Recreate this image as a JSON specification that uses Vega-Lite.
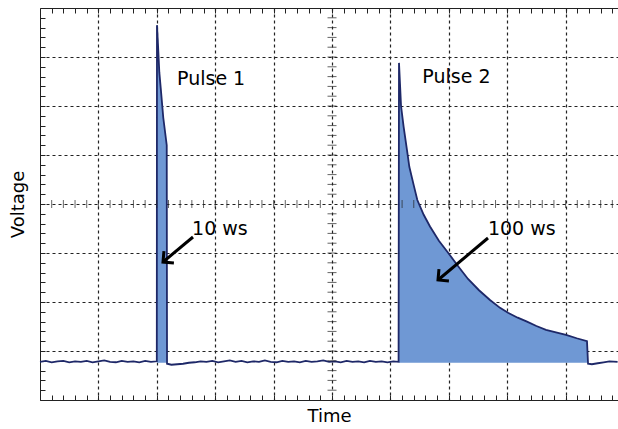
{
  "$schema": "https://vega.github.io/schema/vega-lite/v6.json",
  "width": 578,
  "height": 392,
  "autosize": {"type": "none"},
  "padding": {"left": 40, "top": 8, "right": 0, "bottom": 29},
  "background": "white",
  "config": {"view": {"stroke": null}, "font": "DejaVu Sans"},
  "datasets": {
    "trace": [
      {"t": 0.0, "v": 0.78, "p": 0}, {"t": 0.1, "v": 0.80, "p": 0}, {"t": 0.2, "v": 0.77, "p": 0}, {"t": 0.3, "v": 0.79, "p": 0},
      {"t": 0.4, "v": 0.80, "p": 0}, {"t": 0.5, "v": 0.77, "p": 0}, {"t": 0.6, "v": 0.79, "p": 0}, {"t": 0.7, "v": 0.78, "p": 0},
      {"t": 0.8, "v": 0.80, "p": 0}, {"t": 0.9, "v": 0.77, "p": 0}, {"t": 1.0, "v": 0.79, "p": 0}, {"t": 1.1, "v": 0.81, "p": 0},
      {"t": 1.2, "v": 0.78, "p": 0}, {"t": 1.3, "v": 0.77, "p": 0}, {"t": 1.4, "v": 0.80, "p": 0}, {"t": 1.5, "v": 0.78, "p": 0},
      {"t": 1.6, "v": 0.79, "p": 0}, {"t": 1.7, "v": 0.77, "p": 0}, {"t": 1.8, "v": 0.80, "p": 0}, {"t": 1.9, "v": 0.78, "p": 0},
      {"t": 2.0, "v": 0.79, "p": 0},
      {"t": 2.003, "v": 7.65, "p": 1}, {"t": 2.021, "v": 7.24, "p": 1}, {"t": 2.043, "v": 6.69, "p": 1},
      {"t": 2.067, "v": 6.37, "p": 1}, {"t": 2.111, "v": 5.76, "p": 1}, {"t": 2.17, "v": 5.2, "p": 1},
      {"t": 2.175, "v": 0.74, "p": 0}, {"t": 2.25, "v": 0.72, "p": 0}, {"t": 2.35, "v": 0.73, "p": 0}, {"t": 2.45, "v": 0.74, "p": 0},
      {"t": 2.55, "v": 0.76, "p": 0}, {"t": 2.65, "v": 0.77, "p": 0}, {"t": 2.75, "v": 0.79, "p": 0}, {"t": 2.85, "v": 0.78, "p": 0},
      {"t": 2.95, "v": 0.80, "p": 0}, {"t": 3.05, "v": 0.77, "p": 0}, {"t": 3.15, "v": 0.79, "p": 0}, {"t": 3.25, "v": 0.81, "p": 0},
      {"t": 3.35, "v": 0.78, "p": 0}, {"t": 3.45, "v": 0.80, "p": 0}, {"t": 3.55, "v": 0.77, "p": 0}, {"t": 3.65, "v": 0.79, "p": 0},
      {"t": 3.75, "v": 0.78, "p": 0}, {"t": 3.85, "v": 0.81, "p": 0}, {"t": 3.95, "v": 0.78, "p": 0}, {"t": 4.05, "v": 0.77, "p": 0},
      {"t": 4.15, "v": 0.80, "p": 0}, {"t": 4.25, "v": 0.78, "p": 0}, {"t": 4.35, "v": 0.79, "p": 0}, {"t": 4.45, "v": 0.77, "p": 0},
      {"t": 4.55, "v": 0.80, "p": 0}, {"t": 4.65, "v": 0.78, "p": 0}, {"t": 4.75, "v": 0.79, "p": 0}, {"t": 4.85, "v": 0.81, "p": 0},
      {"t": 4.95, "v": 0.78, "p": 0}, {"t": 5.05, "v": 0.79, "p": 0}, {"t": 5.15, "v": 0.77, "p": 0}, {"t": 5.25, "v": 0.80, "p": 0},
      {"t": 5.35, "v": 0.78, "p": 0}, {"t": 5.45, "v": 0.79, "p": 0}, {"t": 5.55, "v": 0.77, "p": 0}, {"t": 5.65, "v": 0.80, "p": 0},
      {"t": 5.75, "v": 0.78, "p": 0}, {"t": 5.85, "v": 0.79, "p": 0}, {"t": 5.95, "v": 0.77, "p": 0}, {"t": 6.05, "v": 0.79, "p": 0},
      {"t": 6.14, "v": 0.78, "p": 0},
      {"t": 6.147, "v": 6.88, "p": 2}, {"t": 6.164, "v": 6.46, "p": 2}, {"t": 6.182, "v": 6.0, "p": 2},
      {"t": 6.226, "v": 5.58, "p": 2}, {"t": 6.284, "v": 5.1, "p": 2}, {"t": 6.324, "v": 4.76, "p": 2},
      {"t": 6.4, "v": 4.38, "p": 2}, {"t": 6.461, "v": 4.08, "p": 2}, {"t": 6.57, "v": 3.78, "p": 2},
      {"t": 6.678, "v": 3.54, "p": 2}, {"t": 6.83, "v": 3.25, "p": 2}, {"t": 6.991, "v": 3.0, "p": 2},
      {"t": 7.16, "v": 2.73, "p": 2}, {"t": 7.329, "v": 2.47, "p": 2}, {"t": 7.517, "v": 2.24, "p": 2},
      {"t": 7.705, "v": 2.04, "p": 2}, {"t": 7.877, "v": 1.88, "p": 2}, {"t": 8.014, "v": 1.78, "p": 2},
      {"t": 8.18, "v": 1.68, "p": 2}, {"t": 8.339, "v": 1.6, "p": 2}, {"t": 8.5, "v": 1.51, "p": 2},
      {"t": 8.664, "v": 1.43, "p": 2}, {"t": 8.835, "v": 1.38, "p": 2}, {"t": 9.007, "v": 1.33, "p": 2},
      {"t": 9.19, "v": 1.26, "p": 2}, {"t": 9.366, "v": 1.2, "p": 2},
      {"t": 9.384, "v": 0.74, "p": 0}, {"t": 9.45, "v": 0.73, "p": 0}, {"t": 9.55, "v": 0.75, "p": 0}, {"t": 9.65, "v": 0.77, "p": 0},
      {"t": 9.75, "v": 0.79, "p": 0}, {"t": 9.89, "v": 0.78, "p": 0}
    ],
    "vticks": [
      {"v": 0.2}, {"v": 0.4}, {"v": 0.6}, {"v": 0.8}, {"v": 1.0}, {"v": 1.2}, {"v": 1.4}, {"v": 1.6}, {"v": 1.8}, {"v": 2.0},
      {"v": 2.2}, {"v": 2.4}, {"v": 2.6}, {"v": 2.8}, {"v": 3.0}, {"v": 3.2}, {"v": 3.4}, {"v": 3.6}, {"v": 3.8},
      {"v": 4.2}, {"v": 4.4}, {"v": 4.6}, {"v": 4.8}, {"v": 5.0}, {"v": 5.2}, {"v": 5.4}, {"v": 5.6}, {"v": 5.8}, {"v": 6.0},
      {"v": 6.2}, {"v": 6.4}, {"v": 6.6}, {"v": 6.8}, {"v": 7.0}, {"v": 7.2}, {"v": 7.4}, {"v": 7.6}, {"v": 7.8}
    ],
    "hticks": [
      {"t": 0.2}, {"t": 0.4}, {"t": 0.6}, {"t": 0.8}, {"t": 1.0}, {"t": 1.2}, {"t": 1.4}, {"t": 1.6}, {"t": 1.8}, {"t": 2.0},
      {"t": 2.2}, {"t": 2.4}, {"t": 2.6}, {"t": 2.8}, {"t": 3.0}, {"t": 3.2}, {"t": 3.4}, {"t": 3.6}, {"t": 3.8}, {"t": 4.0},
      {"t": 4.2}, {"t": 4.4}, {"t": 4.6}, {"t": 4.8}, {"t": 5.2}, {"t": 5.4}, {"t": 5.6}, {"t": 5.8}, {"t": 6.0},
      {"t": 6.2}, {"t": 6.4}, {"t": 6.6}, {"t": 6.8}, {"t": 7.0}, {"t": 7.2}, {"t": 7.4}, {"t": 7.6}, {"t": 7.8}, {"t": 8.0},
      {"t": 8.2}, {"t": 8.4}, {"t": 8.6}, {"t": 8.8}, {"t": 9.0}, {"t": 9.2}, {"t": 9.4}, {"t": 9.6}, {"t": 9.8}
    ],
    "labels": [
      {"t": 2.93, "v": 6.43, "label": "Pulse 1"},
      {"t": 7.13, "v": 6.47, "label": "Pulse 2"},
      {"t": 3.08, "v": 3.37, "label": "10 ws"},
      {"t": 8.25, "v": 3.37, "label": "100 ws"}
    ],
    "arrows": [
      {"t": 2.62, "v": 3.327, "t2": 2.106, "v2": 2.816, "ang": 230},
      {"t": 7.671, "v": 3.306, "t2": 6.815, "v2": 2.449, "ang": 230}
    ]
  },
  "layer": [
    {
      "data": {"name": "trace"},
      "transform": [{"filter": "datum.p > 0"}],
      "mark": {"type": "area", "color": "#6f98d4", "opacity": 1},
      "encoding": {
        "x": {"field": "t", "type": "quantitative", "scale": {"domain": [0, 9.897], "nice": false, "zero": false},
          "axis": {"orient": "bottom", "values": [0,0.2,0.4,0.6,0.8,1,1.2,1.4,1.6,1.8,2,2.2,2.4,2.6,2.8,3,3.2,3.4,3.6,3.8,4,4.2,4.4,4.6,4.8,5,5.2,5.4,5.6,5.8,6,6.2,6.4,6.6,6.8,7,7.2,7.4,7.6,7.8,8,8.2,8.4,8.6,8.8,9,9.2,9.4,9.6,9.8],
            "tickSize": -5, "tickColor": "#222", "domainColor": "#222", "labels": false, "grid": false,
            "title": "Time", "titleFontSize": 18, "titleFontWeight": "normal", "titleColor": "#000", "titlePadding": 7}},
        "y": {"field": "v", "type": "quantitative", "scale": {"domain": [0, 8], "nice": false, "zero": false},
          "axis": {"orient": "left", "values": [0,0.2,0.4,0.6,0.8,1,1.2,1.4,1.6,1.8,2,2.2,2.4,2.6,2.8,3,3.2,3.4,3.6,3.8,4,4.2,4.4,4.6,4.8,5,5.2,5.4,5.6,5.8,6,6.2,6.4,6.6,6.8,7,7.2,7.4,7.6,7.8],
            "tickSize": -5, "tickColor": "#222", "domainColor": "#222", "labels": false, "grid": false,
            "title": "Voltage", "titleFontSize": 18, "titleFontWeight": "normal", "titleColor": "#000", "titlePadding": 12}},
        "y2": {"datum": 0.76},
        "detail": {"field": "p"}
      }
    },
    {
      "data": {"name": "trace"},
      "mark": {"type": "line", "color": "#1e2868", "strokeWidth": 1.8},
      "encoding": {
        "x": {"field": "t", "type": "quantitative", "scale": {"domain": [0, 9.897], "nice": false, "zero": false},
          "axis": {"orient": "top", "values": [0,0.2,0.4,0.6,0.8,1,1.2,1.4,1.6,1.8,2,2.2,2.4,2.6,2.8,3,3.2,3.4,3.6,3.8,4,4.2,4.4,4.6,4.8,5,5.2,5.4,5.6,5.8,6,6.2,6.4,6.6,6.8,7,7.2,7.4,7.6,7.8,8,8.2,8.4,8.6,8.8,9,9.2,9.4,9.6,9.8],
            "tickSize": -5, "tickColor": "#222", "domainColor": "#222", "labels": false, "grid": false, "title": null}},
        "y": {"field": "v", "type": "quantitative", "scale": {"domain": [0, 8], "nice": false, "zero": false},
          "axis": {"orient": "left", "values": [1,2,3,4,5,6,7], "grid": true, "gridDash": [3, 3], "gridColor": "#222", "gridOpacity": 1, "gridWidth": 1.2,
            "ticks": false, "domain": false, "labels": false, "title": null}}
      }
    },
    {
      "data": {"name": "hticks"},
      "mark": {"type": "tick", "orient": "vertical", "color": "#222", "size": 8, "thickness": 1},
      "encoding": {
        "x": {"field": "t", "type": "quantitative", "scale": {"domain": [0, 9.897], "nice": false, "zero": false},
          "axis": {"orient": "bottom", "values": [1,2,3,4,5,6,7,8,9], "grid": true, "gridDash": [3, 3], "gridColor": "#222", "gridOpacity": 1, "gridWidth": 1.2,
            "ticks": false, "domain": false, "labels": false, "title": null}},
        "y": {"datum": 4, "type": "quantitative", "scale": {"domain": [0, 8], "nice": false, "zero": false}, "axis": null}
      }
    },
    {
      "data": {"name": "vticks"},
      "mark": {"type": "tick", "orient": "horizontal", "color": "#222", "size": 9, "thickness": 1},
      "encoding": {
        "x": {"datum": 5, "type": "quantitative", "scale": {"domain": [0, 9.897], "nice": false, "zero": false}, "axis": null},
        "y": {"field": "v", "type": "quantitative", "scale": {"domain": [0, 8], "nice": false, "zero": false}, "axis": null}
      }
    },
    {
      "data": {"name": "labels"},
      "mark": {"type": "text", "fontSize": 19, "font": "DejaVu Sans", "align": "center", "baseline": "alphabetic", "color": "#000"},
      "encoding": {
        "x": {"field": "t", "type": "quantitative", "scale": {"domain": [0, 9.897], "nice": false, "zero": false}, "axis": null},
        "y": {"field": "v", "type": "quantitative", "scale": {"domain": [0, 8], "nice": false, "zero": false}, "axis": null},
        "text": {"field": "label"}
      }
    },
    {
      "data": {"name": "arrows"},
      "mark": {"type": "rule", "color": "#000", "strokeWidth": 3},
      "encoding": {
        "x": {"field": "t", "type": "quantitative", "scale": {"domain": [0, 9.897], "nice": false, "zero": false}, "axis": null},
        "y": {"field": "v", "type": "quantitative", "scale": {"domain": [0, 8], "nice": false, "zero": false}, "axis": null},
        "x2": {"field": "t2"},
        "y2": {"field": "v2"}
      }
    },
    {
      "data": {"name": "arrows"},
      "mark": {"type": "point", "shape": "M -1 1 L 0 0 L 1 1", "filled": false, "color": "#000", "strokeWidth": 3, "size": 240, "opacity": 1},
      "encoding": {
        "x": {"field": "t2", "type": "quantitative", "scale": {"domain": [0, 9.897], "nice": false, "zero": false}, "axis": null},
        "y": {"field": "v2", "type": "quantitative", "scale": {"domain": [0, 8], "nice": false, "zero": false}, "axis": null},
        "angle": {"field": "ang", "type": "quantitative", "scale": null}
      }
    }
  ],
  "resolve": {"axis": {"x": "independent", "y": "independent"}}
}
